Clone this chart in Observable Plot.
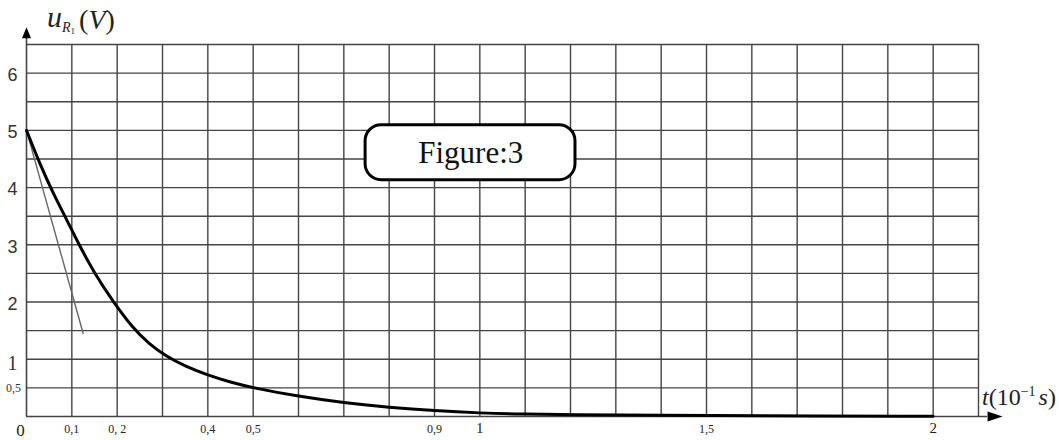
<!DOCTYPE html>
<html>
<head>
<meta charset="utf-8">
<script src="https://cdn.jsdelivr.net/npm/d3@7"></script>
<script src="https://cdn.jsdelivr.net/npm/@observablehq/plot@0.6"></script>
<style>
  html, body { margin: 0; padding: 0; background: white; }
  #chart { width: 1059px; height: 440px; }
</style>
</head>
<body>
<div id="chart"></div>
<script>
// ---- data ----
const curveT = [0, 0.03, 0.06, 0.09, 0.112, 0.15, 0.19, 0.234, 0.27, 0.31, 0.35, 0.4, 0.45, 0.5, 0.6, 0.7, 0.8, 0.9, 1.0, 1.1, 1.2, 1.4, 1.6, 2.0];
const curveU = [5, 4.4, 3.88, 3.42, 3.06, 2.5, 2.02, 1.55, 1.27, 1.04, 0.88, 0.72, 0.6, 0.5, 0.35, 0.24, 0.16, 0.1, 0.06, 0.04, 0.03, 0.02, 0.012, 0.005];
const tangentT = [0, 0.125];
const tangentU = [5, 1.45];

const xTickVals = [0.1, 0.2, 0.4, 0.5, 0.9, 1.5];
const xTickLabels = ["0,1", "0, 2", "0,4", "0,5", "0,9", "1,5"];
const xBigTickVals = [1, 2];
const xBigTickLabels = ["1", "2"];
const ySansTickVals = [2, 3, 4, 5, 6];
const ySansTickLabels = ["2", "3", "4", "5", "6"];
const ySerifTickVals = [1];
const ySerifTickLabels = ["1"];
const ySmallTickVals = [0.5];
const ySmallTickLabels = ["0,5"];

const xGrid = d3.range(1, 22).map(i => i / 10);   // every 0.1 up to 2.1
const yGrid = d3.range(1, 14).map(i => i / 2);    // every 0.5 up to 6.5

const curve = curveT.map((t, i) => ({t, u: curveU[i]}));
const tangent = tangentT.map((t, i) => ({t, u: tangentU[i]}));
const tick = (vals, labels) => vals.map((v, i) => ({v, label: labels[i]}));

const serif = "Liberation Serif, Times New Roman, serif";
const sans = "Liberation Sans, Arial, sans-serif";

const arrowX = {draw(ctx) { ctx.moveTo(0, -15); ctx.lineTo(5, 0); ctx.lineTo(-5, 0); ctx.closePath(); }};
const arrowY = {draw(ctx) { ctx.moveTo(0, -11); ctx.lineTo(4.5, 0); ctx.lineTo(-4.5, 0); ctx.closePath(); }};

const plot = Plot.plot({
  width: 1059,
  height: 440,
  marginLeft: 26,
  marginRight: 81,
  marginTop: 44,
  marginBottom: 24,
  x: {domain: [0, 2.1], axis: null},
  y: {domain: [0, 6.5], axis: null},
  style: {background: "white", overflow: "visible"},
  marks: [
    Plot.ruleY(yGrid, {x1: 0, x2: 2.1, stroke: "#444", strokeWidth: 1.4}),
    Plot.ruleX(xGrid, {y1: 0, y2: 6.5, stroke: "#444", strokeWidth: 1.4}),
    Plot.ruleY([0], {x1: 0, x2: 2.12, stroke: "#444", strokeWidth: 1.6}),
    Plot.ruleX([0], {y1: 0, y2: 6.61, stroke: "#444", strokeWidth: 1.6}),
    Plot.dot([0], {x: 2.12, y: 0, symbol: arrowX, rotate: 90, fill: "black", stroke: "none"}),
    Plot.dot([0], {x: 0, y: 6.61, symbol: arrowY, fill: "black", stroke: "none"}),
    Plot.line(tangent, {x: "t", y: "u", stroke: "#666", strokeWidth: 1.4}),
    Plot.line(curve, {x: "t", y: "u", stroke: "black", strokeWidth: 3, curve: "basis"}),
    Plot.rect([0], {x1: 0.748, x2: 1.211, y1: 4.13, y2: 5.09, rx: 16, fill: "white", stroke: "black", strokeWidth: 3}),
    Plot.text(["Figure:3"], {x: 0.98, y: 4.61, text: d => d, fontSize: 31, fontFamily: serif, fill: "#111"}),
    Plot.text(tick(xTickVals, xTickLabels), {x: "v", y: 0, text: "label", dy: 13, fontSize: 12, fontFamily: serif, fill: "#222"}),
    Plot.text(tick(xBigTickVals, xBigTickLabels), {x: "v", y: 0, text: "label", dy: 12, fontSize: 15, fontFamily: serif, fill: "#222"}),
    Plot.text(["0"], {x: 0, y: 0, text: d => d, dx: -6, dy: 14, fontSize: 17, fontFamily: serif, fill: "#222"}),
    Plot.text(tick(ySansTickVals, ySansTickLabels), {x: 0, y: "v", text: "label", dx: -14, dy: 2, fontSize: 18, fontFamily: sans, fill: "#333"}),
    Plot.text(tick(ySerifTickVals, ySerifTickLabels), {x: 0, y: "v", text: "label", dx: -14, dy: 4, fontSize: 20, fontFamily: serif, fill: "#333"}),
    Plot.text(tick(ySmallTickVals, ySmallTickLabels), {x: 0, y: "v", text: "label", dx: -13, dy: 0, fontSize: 12, fontFamily: serif, fill: "#333"})
  ]
});

document.getElementById("chart").appendChild(plot);

// axis titles with sub/superscripts
const svg = d3.select(plot);
const sx = plot.scale("x"), sy = plot.scale("y");
const x0 = sx.apply(0), yTop = sy.apply(6.5);

const yt = svg.append("text")
  .attr("x", x0 + 21).attr("y", yTop - 17)
  .attr("text-anchor", "start")
  .attr("font-family", serif).attr("fill", "#222");
yt.append("tspan").attr("font-size", 30).attr("font-style", "italic").text("u");
yt.append("tspan").attr("font-size", 14).attr("font-style", "italic").attr("dy", 5).text("R");
yt.append("tspan").attr("font-size", 9).attr("dy", 2).text("1");
yt.append("tspan").attr("font-size", 28).attr("dy", -5).attr("dx", 4).text("(");
yt.append("tspan").attr("font-size", 28).attr("font-style", "italic").text("V");
yt.append("tspan").attr("font-size", 28).text(")");

const xr = sx.apply(2.1), y0 = sy.apply(0);
const xt = svg.append("text")
  .attr("x", xr + 4).attr("y", y0 - 11)
  .attr("text-anchor", "start")
  .attr("font-family", serif).attr("fill", "#222");
xt.append("tspan").attr("font-size", 24).attr("font-style", "italic").text("t");
xt.append("tspan").attr("font-size", 24).text("(10");
xt.append("tspan").attr("font-size", 14).attr("dy", -9).text("−1");
xt.append("tspan").attr("font-size", 24).attr("font-style", "italic").attr("dy", 9).attr("dx", 3).text("s");
xt.append("tspan").attr("font-size", 24).text(")");
</script>
</body>
</html>
